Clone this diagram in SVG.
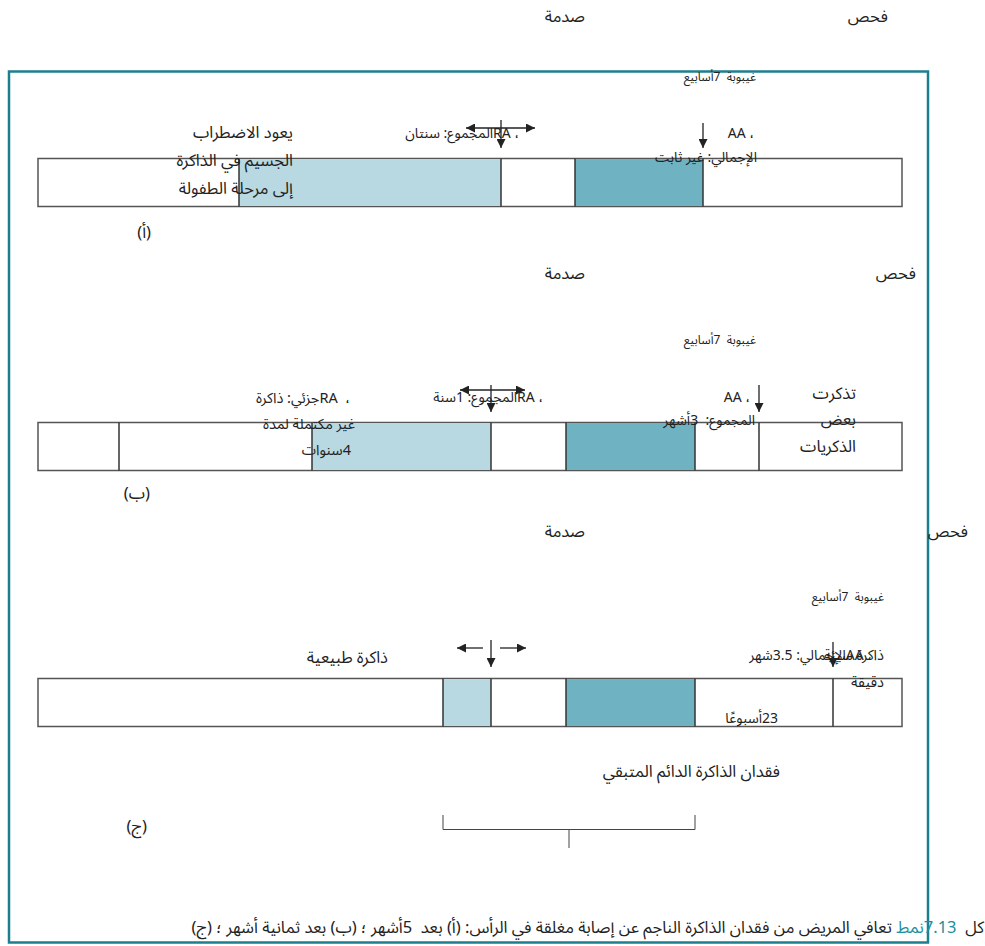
<svg xmlns="http://www.w3.org/2000/svg" width="985" height="946" viewBox="0 0 985 946">
  <style>
    text { font-family: "Noto Sans Arabic", "Noto Sans", "DejaVu Sans", sans-serif; fill: #222; direction: rtl; }
    .lbl { font-size: 16.5px; }
    .md { font-size: 14.5px; }
    .sm { font-size: 14px; }
    .xs { font-size: 12px; }
    .bar { fill: #fff; stroke: #555; stroke-width: 1.5; }
    .div { stroke: #333; stroke-width: 1.5; }
    .ra { fill: #b8d8e2; }
    .coma { fill: #6fb3c3; }
    .arr { stroke: #222; stroke-width: 1.3; fill: none; }
    .brk { stroke: #444; stroke-width: 1; fill: none; }
    .num { fill: #1a8fa0; }
  </style>
  <defs>
    <marker id="ah" viewBox="0 0 10 10" refX="10" refY="5" markerWidth="10" markerHeight="9" markerUnits="userSpaceOnUse" orient="auto-start-reverse">
      <path d="M0,0 L10,5 L0,10 z" fill="#222"/>
    </marker>
  </defs>
  <rect width="985" height="946" fill="#fff"/>

  <!-- outer frame -->
  <rect x="9" y="71.5" width="919" height="871" fill="none" stroke="#1b7f8e" stroke-width="2.5"/>

  <!-- (a) after 5 months -->
  <g id="panel-a">
    <text class="lbl" x="585" y="22">صدمة</text>
    <text class="lbl" x="888" y="22">فحص</text>
    <text class="xs" x="756" y="81">غيبوبة&#160; 7أسابيع</text>
    <rect class="bar" x="38" y="158.5" width="864" height="48"/>
    <rect class="ra" x="239" y="159" width="262" height="47"/>
    <rect class="coma" x="575" y="159" width="128" height="47"/>
    <line class="div" x1="239" y1="158.5" x2="239" y2="206.5"/>
    <line class="div" x1="501" y1="158.5" x2="501" y2="206.5"/>
    <line class="div" x1="575" y1="158.5" x2="575" y2="206.5"/>
    <line class="div" x1="703" y1="158.5" x2="703" y2="206.5"/>
    <text class="lbl" x="293" y="138">يعود الاضطراب</text>
    <text class="lbl" x="293" y="166">الجسيم في الذاكرة</text>
    <text class="lbl" x="293" y="194">إلى مرحلة الطفولة</text>
    <text class="sm" x="519" y="138">، RAالمجموع: سنتان</text>
    <text class="sm" x="754" y="138">، AA</text>
    <text class="sm" x="757" y="162">الإجمالي: غير ثابت</text>
    <text class="lbl" x="151" y="238">(أ)</text>
  </g>

  <!-- (b) after 8 months -->
  <g id="panel-b">
    <text class="lbl" x="585" y="279">صدمة</text>
    <text class="lbl" x="916" y="279">فحص</text>
    <text class="xs" x="756" y="344">غيبوبة&#160; 7أسابيع</text>
    <rect class="bar" x="38" y="422.5" width="864" height="48"/>
    <rect class="ra" x="312" y="423" width="179" height="47"/>
    <rect class="coma" x="566" y="423" width="129" height="47"/>
    <line class="div" x1="119" y1="422.5" x2="119" y2="470.5"/>
    <line class="div" x1="312" y1="422.5" x2="312" y2="470.5"/>
    <line class="div" x1="491" y1="422.5" x2="491" y2="470.5"/>
    <line class="div" x1="566" y1="422.5" x2="566" y2="470.5"/>
    <line class="div" x1="695" y1="422.5" x2="695" y2="470.5"/>
    <line class="div" x1="759" y1="422.5" x2="759" y2="470.5"/>
    <text class="md" x="350" y="403">،&#160; RAجزئي: ذاكرة</text>
    <text class="md" x="355" y="429">غير مكتملة لمدة</text>
    <text class="md" x="351" y="455">4سنوات</text>
    <text class="sm" x="543" y="402">، RAالمجموع: 1سنة</text>
    <text class="sm" x="750" y="402">، AA</text>
    <text class="sm" x="755" y="425">المجموع:&#160; 3أشهر</text>
    <text class="lbl" x="856" y="399">تذكرت</text>
    <text class="lbl" x="856" y="425">بعض</text>
    <text class="lbl" x="856" y="452">الذكريات</text>
    <text class="lbl" x="150" y="499">(ب)</text>
  </g>

  <!-- (c) after 16 months -->
  <g id="panel-c">
    <text class="lbl" x="585" y="537">صدمة</text>
    <text class="lbl" x="968" y="537">فحص</text>
    <text class="xs" x="884" y="601">غيبوبة&#160; 7أسابيع</text>
    <rect class="bar" x="38" y="678.5" width="864" height="48"/>
    <rect class="ra" x="443" y="679" width="48" height="47"/>
    <rect class="coma" x="566" y="679" width="129" height="47"/>
    <line class="div" x1="443" y1="678.5" x2="443" y2="726.5"/>
    <line class="div" x1="491" y1="678.5" x2="491" y2="726.5"/>
    <line class="div" x1="566" y1="678.5" x2="566" y2="726.5"/>
    <line class="div" x1="695" y1="678.5" x2="695" y2="726.5"/>
    <line class="div" x1="833" y1="678.5" x2="833" y2="726.5"/>
    <text class="lbl" x="388" y="663">ذاكرة طبيعية</text>
    <text class="sm" x="872" y="660">، AAالإجمالي: 3.5شهر</text>
    <text class="md" x="884" y="660">ذاكرة سيئة</text>
    <text class="md" x="884" y="687">دقيقة</text>
    <text class="sm" x="778" y="723">23أسبوعًا</text>
    <text class="lbl" x="780" y="777">فقدان الذاكرة الدائم المتبقي</text>
    <text class="lbl" x="147" y="832">(ج)</text>
  </g>

  <!-- arrows and bracket -->
  <g id="connectors">
    <line class="arr" x1="501" y1="120" x2="501" y2="148" marker-end="url(#ah)"/>
    <line class="arr" x1="466" y1="128" x2="535" y2="128" marker-start="url(#ah)" marker-end="url(#ah)"/>
    <line class="arr" x1="703" y1="123" x2="703" y2="148" marker-end="url(#ah)"/>

    <line class="arr" x1="491" y1="385" x2="491" y2="412" marker-end="url(#ah)"/>
    <line class="arr" x1="460" y1="390" x2="525" y2="390" marker-start="url(#ah)" marker-end="url(#ah)"/>
    <line class="arr" x1="759" y1="385" x2="759" y2="412" marker-end="url(#ah)"/>

    <line class="arr" x1="491" y1="640" x2="491" y2="667" marker-end="url(#ah)"/>
    <line class="arr" x1="483" y1="648" x2="457" y2="648" marker-end="url(#ah)"/>
    <line class="arr" x1="500" y1="648" x2="526" y2="648" marker-end="url(#ah)"/>
    <line class="arr" x1="833" y1="642" x2="833" y2="667" marker-end="url(#ah)"/>

    <path class="brk" d="M443,815 V829.5 H695 V815 M569,829.5 V848"/>
  </g>

  <!-- caption -->
  <g id="caption">
    <text class="lbl" x="984" y="933">كل&#160; <tspan class="num">7.13نمط</tspan> تعافي المريض من فقدان الذاكرة الناجم عن إصابة مغلقة في الرأس: (أ) بعد&#160; 5أشهر ؛ (ب) بعد ثمانية أشهر ؛ (ج)</text>
  </g>
</svg>
